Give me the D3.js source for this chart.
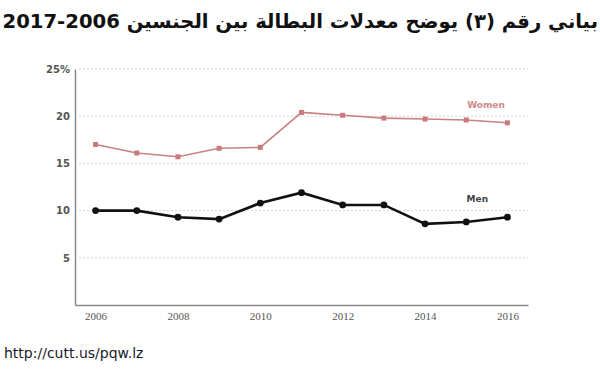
<!DOCTYPE html>
<html>
<head>
<meta charset="utf-8">
<script src="https://cdn.jsdelivr.net/npm/d3@7"></script>
<style>
  html, body { margin: 0; padding: 0; background: #fff; overflow: hidden; }
  svg { display: block; }
</style>
</head>
<body>
<svg id="chart" width="600" height="380"></svg>
<script>
const years = [2006, 2007, 2008, 2009, 2010, 2011, 2012, 2013, 2014, 2015, 2016];
const women = [17.0, 16.1, 15.7, 16.6, 16.7, 20.4, 20.1, 19.8, 19.7, 19.6, 19.3];
const men   = [10.0, 10.0, 9.3, 9.1, 10.8, 11.9, 10.6, 10.6, 8.6, 8.8, 9.3];
const yTicks = [5, 10, 15, 20, 25];
const xTicks = [2006, 2008, 2010, 2012, 2014, 2016];
const seriesNames = ["Women", "Men"];
const titleText = "بياني رقم (٣) يوضح معدلات البطالة بين الجنسين 2006-2017";
const sourceText = "http://cutt.us/pqw.lz";

const svg = d3.select("#chart");

const x = d3.scaleLinear().domain([2005.5, 2016.5]).range([75, 528]);
const y = d3.scaleLinear().domain([0, 25]).range([305, 69]);

// Gridlines
svg.append("g")
  .selectAll("line")
  .data(yTicks)
  .join("line")
  .attr("x1", 79).attr("x2", 528)
  .attr("y1", d => y(d)).attr("y2", d => y(d))
  .attr("stroke", "#d4d4d4")
  .attr("stroke-width", 1)
  .attr("stroke-dasharray", "2,2");

// Y axis
const yAxis = d3.axisLeft(y)
  .tickValues(yTicks)
  .tickSize(0)
  .tickPadding(5)
  .tickFormat(d => d === 25 ? "25%" : d);
const gy = svg.append("g").attr("transform", "translate(75,0)").call(yAxis);
gy.select(".domain").attr("stroke", "#8a8a8a").attr("stroke-width", 1.5);
gy.selectAll("text")
  .attr("font-family", "DejaVu Sans, sans-serif")
  .attr("font-size", 10)
  .attr("font-weight", "bold")
  .attr("fill", "#555");

// X axis
const xAxis = d3.axisBottom(x)
  .tickValues(xTicks)
  .tickSize(0)
  .tickPadding(7)
  .tickFormat(d3.format("d"));
const gx = svg.append("g").attr("transform", "translate(0,305)").call(xAxis);
gx.select(".domain").attr("stroke", "#8a8a8a").attr("stroke-width", 1.5);
gx.selectAll("text")
  .attr("font-family", "Liberation Serif, serif")
  .attr("font-size", 11)
  .attr("fill", "#555");

// Lines
const line = d3.line().x((d, i) => x(years[i])).y(d => y(d));

svg.append("path")
  .datum(women)
  .attr("d", line)
  .attr("fill", "none")
  .attr("stroke", "#c98181")
  .attr("stroke-width", 1.6);
svg.append("g")
  .selectAll("rect")
  .data(women)
  .join("rect")
  .attr("x", (d, i) => x(years[i]) - 2.5)
  .attr("y", d => y(d) - 2.5)
  .attr("width", 5).attr("height", 5)
  .attr("fill", "#c97a7e");

svg.append("path")
  .datum(men)
  .attr("d", line)
  .attr("fill", "none")
  .attr("stroke", "#111")
  .attr("stroke-width", 2.6);
svg.append("g")
  .selectAll("circle")
  .data(men)
  .join("circle")
  .attr("cx", (d, i) => x(years[i]))
  .attr("cy", d => y(d))
  .attr("r", 3.4)
  .attr("fill", "#111");

// Series labels
svg.append("text")
  .attr("x", x(2015.48)).attr("y", y(20.9))
  .attr("text-anchor", "middle")
  .attr("font-family", "DejaVu Sans, sans-serif")
  .attr("font-size", 9)
  .attr("font-weight", "bold")
  .attr("fill", "#cf8a8a")
  .text(seriesNames[0]);
svg.append("text")
  .attr("x", x(2015.27)).attr("y", y(10.9))
  .attr("text-anchor", "middle")
  .attr("font-family", "DejaVu Sans, sans-serif")
  .attr("font-size", 9)
  .attr("font-weight", "bold")
  .attr("fill", "#444")
  .text(seriesNames[1]);

// Title, fitted to the width
const title = svg.append("text")
  .attr("y", 28)
  .attr("font-family", "DejaVu Sans, sans-serif")
  .attr("font-size", 20)
  .attr("font-weight", "bold")
  .attr("fill", "#111")
  .attr("direction", "rtl")
  .attr("text-anchor", "start")
  .text(titleText);
const w20 = title.node().getComputedTextLength();
const fs = Math.min(22, 20 * 596 / w20);
title.attr("font-size", fs).attr("x", 598);

// Source
svg.append("text")
  .attr("x", 4).attr("y", 358)
  .attr("font-family", "DejaVu Sans, sans-serif")
  .attr("font-size", 14)
  .attr("fill", "#1a1a2a")
  .text(sourceText);
</script>
</body>
</html>
